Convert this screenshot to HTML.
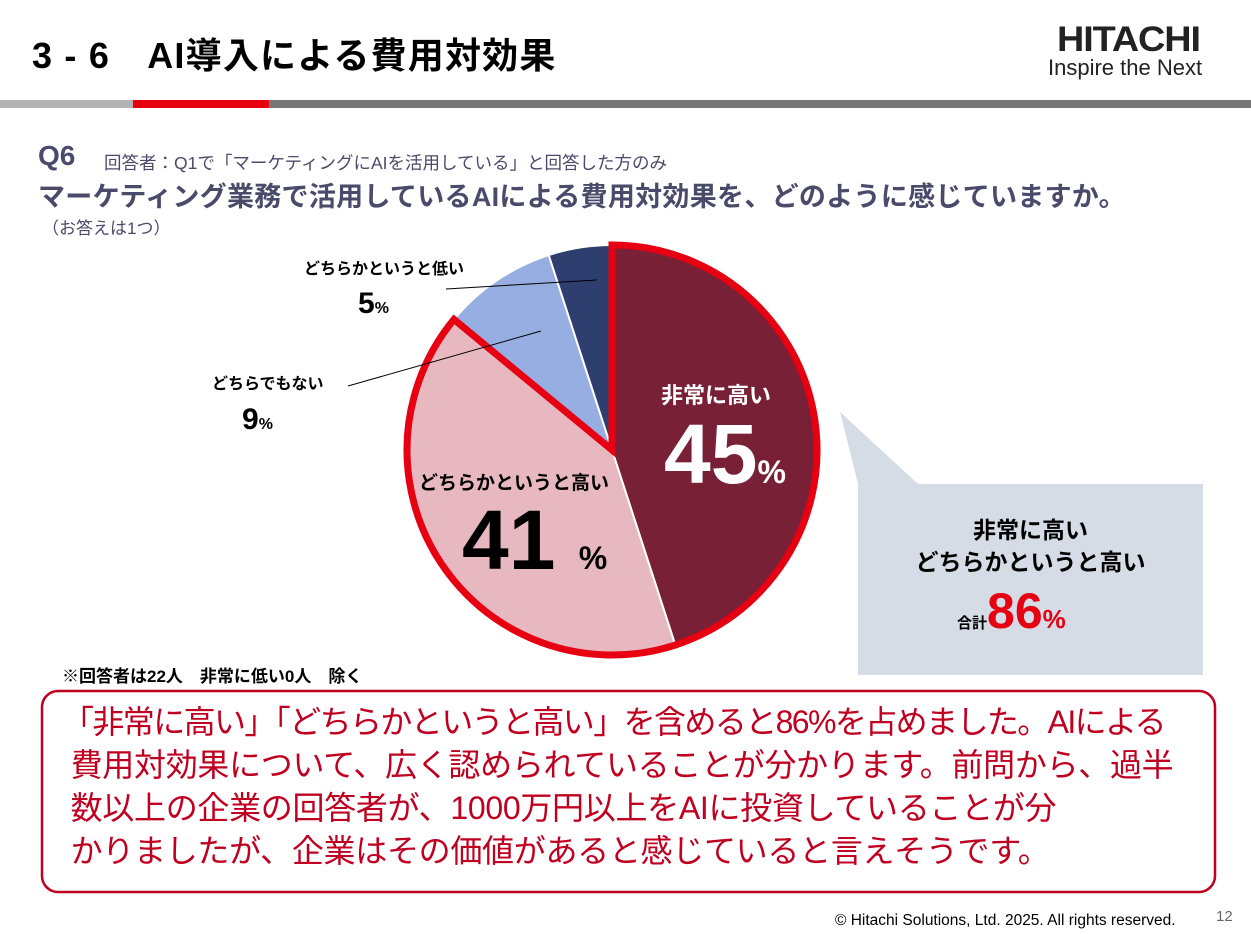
<!DOCTYPE html>
<html><head><meta charset="utf-8"><style>
body{margin:0;width:1251px;height:934px;background:#fff;position:relative;overflow:hidden;font-family:"Liberation Sans","Noto Sans CJK JP",sans-serif;}
.a{position:absolute;white-space:nowrap;}
</style></head><body>
<div class="a" style="left:32px;top:27px;font-size:36px;font-weight:bold;color:#000;letter-spacing:1.2px;">3 - 6　AI導入による費用対効果</div>
<div class="a" style="left:1057px;top:20px;font-size:35px;font-weight:bold;color:#222;letter-spacing:-1px;transform:scaleX(1.08);transform-origin:left;">HITACHI</div>
<div class="a" style="left:1048px;top:55px;font-size:22px;color:#222;">Inspire the Next</div>
<div class="a" style="left:0;top:100px;width:133px;height:8px;background:#b3b3b3"></div>
<div class="a" style="left:133px;top:100px;width:136px;height:8px;background:#e60012"></div>
<div class="a" style="left:269px;top:100px;width:982px;height:8px;background:#777"></div>

<div class="a" style="left:38px;top:140px;font-size:28px;font-weight:bold;color:#4a4a6a;">Q6</div>
<div class="a" style="left:104px;top:150px;font-size:17.5px;color:#4a4a6a;">回答者：Q1で「マーケティングにAIを活用している」と回答した方のみ</div>
<div class="a" style="left:38px;top:175px;font-size:27px;font-weight:bold;color:#4a4a6a;letter-spacing:0.3px;">マーケティング業務で活用しているAIによる費用対効果を、どのように感じていますか。</div>
<div class="a" style="left:42px;top:214px;font-size:17px;color:#4a4a6a;">（お答えは1つ）</div>

<svg class="a" style="left:0;top:0" width="1251" height="934">
<g transform="translate(612,450)">
<path d="M0,0 L0,-205 A205,205 0 0 1 63.3,195 Z" fill="#772036" stroke="#fff" stroke-width="2"/>
<path d="M0,0 L63.3,195 A205,205 0 0 1 -158,-130.6 Z" fill="#e8b8c1" stroke="#fff" stroke-width="2"/>
<path d="M0,0 L-158,-130.6 A205,205 0 0 1 -63.3,-195 Z" fill="#97aee2" stroke="#fff" stroke-width="2"/>
<path d="M0,0 L-63.3,-195 A205,205 0 0 1 0,-205 Z" fill="#2e3e6e" stroke="#fff" stroke-width="2"/>
<path d="M0,0 L0,-205 A205,205 0 1 1 -158,-130.6 Z" fill="none" stroke="#e60012" stroke-width="7" stroke-linejoin="miter"/>
</g>
<line x1="446" y1="289" x2="597" y2="280" stroke="#000" stroke-width="1"/>
<line x1="348" y1="386" x2="541" y2="331" stroke="#000" stroke-width="1"/>
<polygon points="840,412 918,484 858,484" fill="#d6dce5"/>
<rect x="858" y="484" width="345" height="191" fill="#d6dce5"/>
<rect x="42" y="691" width="1173" height="201" rx="16" ry="16" fill="#fff" stroke="#c00020" stroke-width="2.5"/>
</svg>

<div class="a" style="left:304px;top:255px;font-size:16px;font-weight:bold;">どちらかというと低い</div>
<div class="a" style="left:358px;top:287px;font-size:30px;font-weight:bold;">5<span style="font-size:16px">%</span></div>
<div class="a" style="left:212px;top:370px;font-size:16px;font-weight:bold;">どちらでもない</div>
<div class="a" style="left:242px;top:403px;font-size:30px;font-weight:bold;">9<span style="font-size:16px">%</span></div>
<div class="a" style="left:661px;top:378px;font-size:22px;font-weight:bold;color:#fff;">非常に高い</div>
<div class="a" style="left:664px;top:404px;font-size:84px;font-weight:bold;color:#fff;line-height:100px;">45<span style="font-size:32px">%</span></div>
<div class="a" style="left:419px;top:468px;font-size:19px;font-weight:bold;">どちらかというと高い</div>
<div class="a" style="left:462px;top:490px;font-size:84px;font-weight:bold;line-height:100px;">41 <span style="font-size:32px">%</span></div>
<div class="a" style="left:858px;top:514px;width:345px;text-align:center;font-size:23px;font-weight:bold;line-height:32px;">非常に高い<br>どちらかというと高い</div>
<div class="a" style="left:957px;top:582px;font-size:15px;font-weight:bold;">合計<span style="font-size:50px;color:#e60012;">86</span><span style="font-size:26px;color:#e60012;">%</span></div>
<div class="a" style="left:62px;top:662px;font-size:17px;font-weight:bold;">※回答者は22人　非常に低い0人　除く</div>
<div class="a" style="left:62px;top:701px;font-size:32px;color:#c00020;line-height:43px;letter-spacing:-0.3px;"><span style="letter-spacing:-1.6px">「非常に高い」「どちらかというと高い」を含めると86%を占めました。AIによる</span><br>&nbsp;費用対効果について、広く認められていることが分かります。前問から、過半<br>&nbsp;数以上の企業の回答者が、1000万円以上をAIに投資していることが分<br>&nbsp;かりましたが、企業はその価値があると感じていると言えそうです。</div>
<div class="a" style="left:835px;top:912px;font-size:15.5px;color:#000;">© Hitachi Solutions, Ltd. 2025. All rights reserved.</div>
<div class="a" style="left:1216px;top:908px;font-size:15px;color:#666;">12</div>
</body></html>
